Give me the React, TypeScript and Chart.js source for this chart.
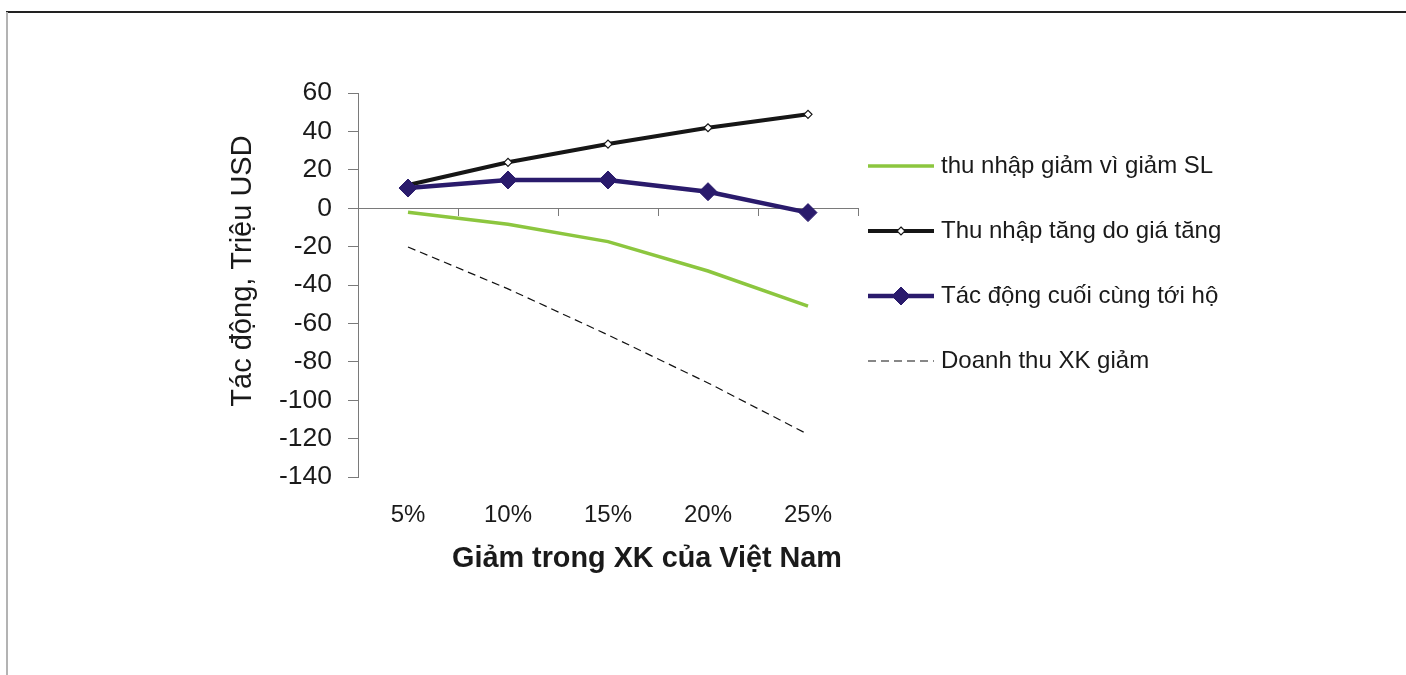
import React, { useEffect, useRef } from "react";
import { Chart, registerables } from "chart.js";

Chart.register(...registerables);

const categories = ["5%", "10%", "15%", "20%", "25%"];
const volumeLoss = [-2.1, -8.4, -17.4, -32.7, -51];
const priceGain = [12.1, 23.9, 33.4, 41.9, 48.9];
const netImpact = [10.5, 14.7, 14.7, 8.6, -2.3];
const exportRevenueLoss = [-20.2, -42, -66, -91, -117.8];
const seriesLabels = [
  "thu nhập giảm vì giảm SL",
  "Thu nhập tăng do giá tăng",
  "Tác động cuối cùng tới hộ",
  "Doanh thu XK giảm",
];
const yMin = -140;
const yMax = 60;
const yStep = 20;
const yTitle = "Tác động, Triệu USD";
const xTitle = "Giảm trong XK của Việt Nam";

const FONT = '"Liberation Sans", Arial, sans-serif';
const TEXT = "#1a1a1a";
const AXIS = "#7a7a7a";

function drawDiamond(ctx: CanvasRenderingContext2D, x: number, y: number, r: number, fill: string, stroke: string, lw: number) {
  ctx.beginPath();
  ctx.moveTo(x, y - r);
  ctx.lineTo(x + r, y);
  ctx.lineTo(x, y + r);
  ctx.lineTo(x - r, y);
  ctx.closePath();
  ctx.fillStyle = fill;
  ctx.fill();
  if (lw > 0) {
    ctx.lineWidth = lw;
    ctx.strokeStyle = stroke;
    ctx.stroke();
  }
}

const overlayPlugin = {
  id: "overlay",
  afterDraw(chart: any) {
    const ctx: CanvasRenderingContext2D = chart.ctx;
    ctx.save();
    ctx.fillStyle = TEXT;
    // y title
    ctx.save();
    ctx.translate(243, 271);
    ctx.rotate(-Math.PI / 2);
    ctx.font = `29px ${FONT}`;
    ctx.textAlign = "center";
    ctx.textBaseline = "middle";
    ctx.fillText(yTitle, 0, 0);
    ctx.restore();
    // x title
    ctx.font = `bold 28.8px ${FONT}`;
    ctx.textAlign = "center";
    ctx.textBaseline = "middle";
    ctx.fillStyle = TEXT;
    ctx.fillText(xTitle, 647, 559);
    // legend
    const x0 = 868;
    const x1 = 934;
    const y0 = 166;
    const step = 65;
    chart.data.datasets.forEach((ds: any, i: number) => {
      const y = y0 + i * step;
      ctx.save();
      ctx.beginPath();
      ctx.setLineDash(ds.borderDash || []);
      ctx.strokeStyle = ds.borderColor;
      ctx.lineWidth = ds.borderWidth;
      ctx.moveTo(x0, y);
      ctx.lineTo(x1, y);
      ctx.stroke();
      ctx.setLineDash([]);
      if (ds.pointRadius > 0) {
        drawDiamond(ctx, (x0 + x1) / 2, y, ds.pointRadius, ds.pointBackgroundColor, ds.pointBorderColor, ds.pointBorderWidth);
      }
      ctx.restore();
      ctx.font = `24px ${FONT}`;
      ctx.textAlign = "left";
      ctx.textBaseline = "middle";
      ctx.fillStyle = TEXT;
      ctx.fillText(ds.label, 941, y);
    });
    ctx.restore();
  },
};

export default function App() {
  const ref = useRef<HTMLCanvasElement | null>(null);

  useEffect(() => {
    if (!ref.current) return;
    const chart = new Chart(ref.current, {
      type: "line",
      data: {
        labels: categories,
        datasets: [
          {
            label: seriesLabels[0],
            data: volumeLoss,
            borderColor: "#8cc63f",
            backgroundColor: "#8cc63f",
            borderWidth: 3.5,
            pointRadius: 0,
            pointHoverRadius: 0,
            tension: 0,
            order: 2,
          },
          {
            label: seriesLabels[1],
            data: priceGain,
            borderColor: "#161616",
            backgroundColor: "#161616",
            borderWidth: 4,
            pointStyle: "rectRot",
            pointRadius: 4,
            pointBackgroundColor: "#ffffff",
            pointBorderColor: "#161616",
            pointBorderWidth: 1.2,
            tension: 0,
            order: 1,
          },
          {
            label: seriesLabels[2],
            data: netImpact,
            borderColor: "#2a1b6c",
            backgroundColor: "#2a1b6c",
            borderWidth: 4.5,
            pointStyle: "rectRot",
            pointRadius: 9,
            pointBackgroundColor: "#2a1b6c",
            pointBorderColor: "#2a1b6c",
            pointBorderWidth: 1,
            tension: 0,
            order: 0,
          },
          {
            label: seriesLabels[3],
            data: exportRevenueLoss,
            borderColor: "#111111",
            backgroundColor: "#111111",
            borderWidth: 1.2,
            borderDash: [8, 5],
            pointRadius: 0,
            pointHoverRadius: 0,
            tension: 0,
            order: 3,
          },
        ],
      },
      options: {
        responsive: false,
        animation: false,
        events: [],
        layout: { padding: { left: 258, right: 548, top: 93, bottom: 138 } },
        plugins: {
          legend: { display: false },
          tooltip: { enabled: false },
          title: { display: false },
        },
        scales: {
          x: {
            type: "category",
            offset: true,
            grid: { display: false, drawTicks: false },
            border: { display: false },
            ticks: {
              color: TEXT,
              font: { family: FONT, size: 24 },
              padding: 24,
              maxRotation: 0,
              autoSkip: false,
            },
            afterFit: (s: any) => {
              s.height = 60;
            },
          },
          x2: {
            type: "category",
            labels: categories,
            offset: true,
            position: { y: 0 },
            grid: {
              offset: true,
              drawOnChartArea: false,
              drawTicks: true,
              tickLength: 7,
              color: AXIS,
              lineWidth: 1,
            },
            border: { display: true, color: AXIS, width: 1 },
            ticks: { display: false },
          },
          y: {
            type: "linear",
            min: yMin,
            max: yMax,
            ticks: {
              stepSize: yStep,
              color: TEXT,
              font: { family: FONT, size: 26.5 },
              padding: 16,
            },
            grid: {
              drawOnChartArea: false,
              drawTicks: true,
              tickLength: 10,
              color: AXIS,
              lineWidth: 1,
            },
            border: { display: true, color: AXIS, width: 1 },
            afterFit: (s: any) => {
              s.width = 100;
            },
          },
        },
      } as any,
      plugins: [overlayPlugin],
    });
    return () => chart.destroy();
  }, []);

  return (
    <div
      style={{
        position: "absolute",
        left: 0,
        top: 0,
        width: 1406,
        height: 675,
        background: "#ffffff",
        overflow: "hidden",
      }}
    >
      <div style={{ position: "absolute", left: 6, top: 11, width: 1400, height: 2, background: "#222222" }} />
      <div style={{ position: "absolute", left: 6, top: 12, width: 2, height: 663, background: "#b3b3b3" }} />
      <canvas ref={ref} width={1406} height={675} style={{ position: "absolute", left: 0, top: 0 }} />
    </div>
  );
}
